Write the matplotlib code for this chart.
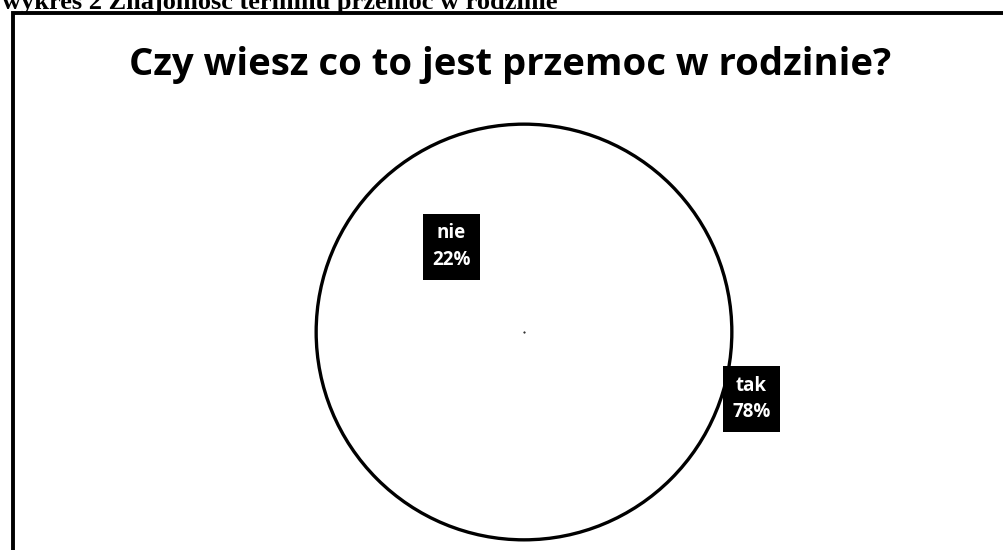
import matplotlib.pyplot as plt
from matplotlib.patches import Circle, Rectangle

# data
categories = ["tak", "nie"]
shares = [78, 22]
title = "Czy wiesz co to jest przemoc w rodzinie?"
caption = "wykres 2 Znajomość terminu przemoc w rodzinie"

fig = plt.figure(figsize=(10.04, 5.5), dpi=100)
fig.patch.set_facecolor("white")

# cut-off caption from the scanned page above the chart
fig.text(0.002, 1 - 9 / 550, caption, fontsize=19, fontweight="bold",
         family="Liberation Serif", ha="left", va="baseline")

# chart frame (right and bottom edge fall outside the scan)
fig.add_artist(Rectangle((13 / 1004, -0.1), 1.2, 1 - 13 / 550 + 0.1,
                         transform=fig.transFigure, fill=False,
                         edgecolor="black", linewidth=2.8))

fig.text(510 / 1004, 1 - 75 / 550, title, fontsize=27.5, fontweight="bold",
         family="Open Sans", ha="center", va="baseline")

# pie axes, centre ~ (524, 332) px, radius ~ 212 px
cx, cy, r = 524, 332, 212
ax = fig.add_axes([(cx - r) / 1004, 1 - (cy + r) / 550, 2 * r / 1004, 2 * r / 550])
wedges, _ = ax.pie(shares, startangle=90, counterclock=False, radius=1,
                   colors=["white", "white"],
                   wedgeprops=dict(linewidth=0, edgecolor="white"))
ax.add_patch(Circle((0, 0), 1, fill=False, edgecolor="black", linewidth=2.4))
ax.plot([0], [0], marker=".", color="black", markersize=1)
ax.set_xlim(-1.02, 1.02)
ax.set_ylim(-1.02, 1.02)

# labels: black boxes with white text
label_pos = {"tak": (1.095, -0.322), "nie": (-0.35, 0.41)}
for cat, val in zip(categories, shares):
    x, y = label_pos[cat]
    ax.text(x, y, f"{cat}\n{val}%", color="white", fontsize=13.5,
            fontweight="bold", family="Open Sans", ha="center", va="center",
            linespacing=1.45,
            bbox=dict(boxstyle="square,pad=0.5", facecolor="black", edgecolor="none"))

fig.savefig("out.png", dpi=100)
